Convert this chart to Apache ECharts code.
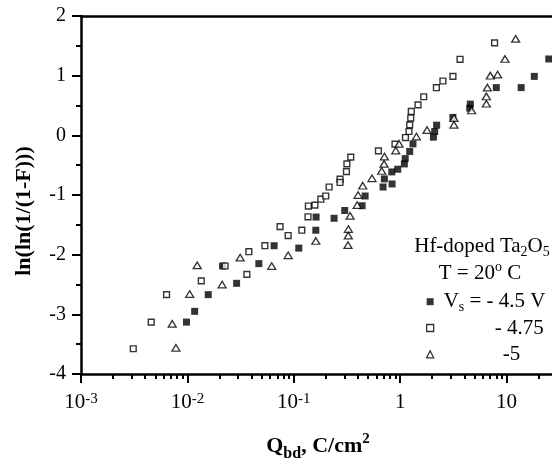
<!DOCTYPE html>
<html>
<head>
<meta charset="utf-8">
<script src="https://cdn.jsdelivr.net/npm/echarts@6/dist/echarts.min.js"></script>
<style>
  html, body { margin: 0; padding: 0; background: #fff; }
  #chart { width: 552px; height: 463px; }
</style>
</head>
<body>
<div id="chart"></div>
<script>
// Weibull plot of charge-to-breakdown (Qbd) for Hf-doped Ta2O5 at three stress voltages.

const FONT = "'Liberation Serif', 'Times New Roman', serif";

// Axis ranges
const qMin = 0.001;
const qMax = 26.7;
const yMin = -4;
const yMax = 2;

// Decades labelled on the Qbd axis and the minor tick multipliers within each decade
const decadeExponents = [-3, -2, -1, 0, 1];
const minorMultipliers = [2, 3, 4, 5, 6, 7, 8, 9];

// Legend names
const seriesNames = ['Vs = -4.5 V', 'Vs = -4.75 V', 'Vs = -5 V'];

// [Qbd (C/cm2), ln(ln(1/(1-F)))]
const pointsVs45 = [
  [0.0098, -3.13], [0.0117, -2.95], [0.0157, -2.67], [0.0214, -2.19], [0.029, -2.48],
  [0.0469, -2.15], [0.0653, -1.85], [0.1114, -1.89], [0.161, -1.59], [0.162, -1.37],
  [0.239, -1.39], [0.301, -1.26], [0.4385, -1.18], [0.468, -1.017], [0.69, -0.866],
  [0.838, -0.815], [0.71, -0.73], [0.834, -0.613], [0.948, -0.568], [1.094, -0.479],
  [1.114, -0.39], [1.228, -0.27], [1.318, -0.143], [2.05, -0.03], [2.11, 0.064],
  [2.2, 0.17], [3.13, 0.3], [4.5, 0.455], [4.56, 0.524], [8.0, 0.8],
  [13.7, 0.8], [18.2, 0.988], [24.9, 1.28]
];

const pointsVs475 = [
  [0.0031, -3.577], [0.00457, -3.13], [0.00637, -2.67], [0.0135, -2.44], [0.0226, -2.19],
  [0.0362, -2.33], [0.0378, -1.95], [0.0535, -1.85], [0.0743, -1.53], [0.0885, -1.68],
  [0.1189, -1.59], [0.136, -1.365], [0.137, -1.185], [0.158, -1.17], [0.1795, -1.07],
  [0.1995, -1.017], [0.2148, -0.866], [0.272, -0.735], [0.272, -0.79], [0.3126, -0.608],
  [0.3155, -0.479], [0.343, -0.366], [0.624, -0.26], [0.893, -0.148], [1.12, -0.037],
  [1.21, 0.064], [1.228, 0.176], [1.256, 0.29], [1.27, 0.4], [1.47, 0.51],
  [1.663, 0.647], [2.188, 0.798], [2.52, 0.911], [3.13, 0.988], [3.65, 1.274],
  [7.71, 1.55]
];

const pointsVs5 = [
  [0.0078, -3.56], [0.0072, -3.16], [0.0105, -2.66], [0.0212, -2.5], [0.01236, -2.18],
  [0.0313, -2.05], [0.062, -2.19], [0.0885, -2.01], [0.161, -1.77], [0.338, -1.35],
  [0.326, -1.57], [0.325, -1.68], [0.323, -1.84], [0.394, -1.168], [0.402, -1.0],
  [0.4446, -0.844], [0.543, -0.72], [0.67, -0.597], [0.705, -0.479], [0.71, -0.356],
  [0.908, -0.255], [0.975, -0.143], [1.419, -0.02], [1.786, 0.087], [3.2, 0.29],
  [3.2, 0.176], [4.69, 0.417], [6.45, 0.53], [6.45, 0.652], [6.59, 0.8],
  [7.03, 1.0], [8.23, 1.017], [9.66, 1.28], [12.16, 1.617]
];

// Tick positions for the decade/minor tick axes (these axes run in log10 units,
// sharing the pixel extent of the logarithmic data axis)
const logMin = Math.log10(qMin);
const logMax = Math.log10(qMax);
const minorLogs = [];
decadeExponents.forEach(function (e) {
  minorMultipliers.forEach(function (m) {
    const v = m * Math.pow(10, e);
    if (v <= qMax) minorLogs.push(Math.log10(v));
  });
});

function decadeLabel(e) {
  if (e === 0) return '{b|1}';
  if (e === 1) return '{b|10}';
  return '{b|10}{s|' + e + '}';
}

const legendText = {};
legendText[seriesNames[0]] = '{p1|V}{sub|s}{m| = - 4.5 V}';
legendText[seriesNames[1]] = '{p2|- 4.75}';
legendText[seriesNames[2]] = '{p3|-5}';

const chart = echarts.init(document.getElementById('chart'), null, { renderer: 'canvas' });

const axisBlack = { color: '#000', width: 2.5 };

chart.setOption({
  animation: false,
  backgroundColor: '#fff',
  grid: { left: 81, right: 0, top: 16, bottom: 89, containLabel: false },
  xAxis: [
    {
      type: 'log', logBase: 10, min: qMin, max: qMax, show: false
    },
    {
      type: 'value', min: logMin, max: logMax, position: 'bottom',
      splitLine: { show: false },
      axisLine: { show: true, onZero: false, lineStyle: axisBlack },
      axisTick: { show: true, inside: false, length: 9, customValues: decadeExponents,
                  lineStyle: { color: '#000', width: 2 } },
      axisLabel: {
        show: true, customValues: decadeExponents, margin: 18,
        formatter: decadeLabel, color: '#000', fontFamily: FONT, fontSize: 21,
        rich: {
          b: { fontFamily: FONT, fontSize: 21, lineHeight: 21, color: '#000' },
          s: { fontFamily: FONT, fontSize: 15, lineHeight: 15, verticalAlign: 'top', color: '#000' }
        }
      }
    },
    {
      type: 'value', min: logMin, max: logMax, position: 'bottom',
      splitLine: { show: false },
      axisLine: { show: false, onZero: false },
      axisTick: { show: true, inside: false, length: 5, customValues: minorLogs,
                  lineStyle: { color: '#000', width: 2 } },
      axisLabel: { show: false }
    },
    {
      type: 'value', min: logMin, max: logMax, position: 'top',
      splitLine: { show: false },
      axisLine: { show: true, onZero: false, lineStyle: axisBlack },
      axisTick: { show: false },
      axisLabel: { show: false }
    }
  ],
  yAxis: {
    type: 'value', min: yMin, max: yMax, interval: 1,
    splitLine: { show: false },
    axisLine: { show: true, onZero: false, lineStyle: axisBlack },
    axisTick: { show: true, inside: false, length: 9, lineStyle: { color: '#000', width: 2 } },
    minorTick: { show: true, splitNumber: 2, length: 5, lineStyle: { color: '#000', width: 2 } },
    axisLabel: { margin: 15, color: '#000', fontFamily: FONT, fontSize: 20 }
  },
  legend: {
    orient: 'vertical', left: 426, top: 288.7, padding: 0,
    itemWidth: 7, itemHeight: 7, itemGap: 0.3, selectedMode: false,
    itemStyle: { borderWidth: 1.3 },
    data: seriesNames,
    formatter: function (name) { return legendText[name]; },
    textStyle: {
      color: '#000', fontFamily: FONT, fontSize: 21, lineHeight: 26,
      rich: {
        p1: { fontFamily: FONT, fontSize: 21, lineHeight: 26, padding: [0, 0, 0, 5], color: '#000' },
        m: { fontFamily: FONT, fontSize: 21, lineHeight: 26, color: '#000' },
        sub: { fontFamily: FONT, fontSize: 14, lineHeight: 8, verticalAlign: 'bottom', color: '#000' },
        p2: { fontFamily: FONT, fontSize: 21, lineHeight: 26, padding: [0, 0, 0, 56], color: '#000' },
        p3: { fontFamily: FONT, fontSize: 21, lineHeight: 26, padding: [0, 0, 0, 64], color: '#000' }
      }
    }
  },
  series: [
    {
      type: 'scatter', name: seriesNames[0], data: pointsVs45,
      xAxisIndex: 0, yAxisIndex: 0,
      symbol: 'rect', symbolSize: 7,
      itemStyle: { color: '#000' },
      emphasis: { disabled: true }
    },
    {
      type: 'scatter', name: seriesNames[1], data: pointsVs475,
      xAxisIndex: 0, yAxisIndex: 0,
      symbol: 'rect', symbolSize: 5.8,
      itemStyle: { color: '#fff', borderColor: '#000', borderWidth: 1.4 },
      emphasis: { disabled: true }
    },
    {
      type: 'scatter', name: seriesNames[2], data: pointsVs5,
      xAxisIndex: 0, yAxisIndex: 0,
      symbol: 'triangle', symbolSize: [8, 6.6],
      itemStyle: { color: '#fff', borderColor: '#000', borderWidth: 1.3 },
      emphasis: { disabled: true }
    }
  ],
  graphic: [
    {
      type: 'text', x: 24, y: 211, rotation: Math.PI / 2,
      style: {
        text: 'ln(ln(1/(1-F)))', fontFamily: FONT, fontSize: 22, fontWeight: 'bold',
        fill: '#000', align: 'center', verticalAlign: 'middle'
      }
    },
    {
      type: 'text', x: 318, y: 446.6,
      style: {
        text: '{m|Q}{sub|bd}{m|, C/cm}{sup|2}', fill: '#000', align: 'center', verticalAlign: 'middle',
        rich: {
          m: { fontFamily: FONT, fontSize: 22, fontWeight: 'bold', lineHeight: 30, fill: '#000' },
          sub: { fontFamily: FONT, fontSize: 16, fontWeight: 'bold', lineHeight: 20, verticalAlign: 'bottom', fill: '#000' },
          sup: { fontFamily: FONT, fontSize: 15, fontWeight: 'bold', lineHeight: 12.6, verticalAlign: 'top', fill: '#000' }
        }
      }
    },
    {
      type: 'text', x: 482, y: 246,
      style: {
        text: '{m|Hf-doped Ta}{sub|2}{m|O}{sub|5}', fill: '#000', align: 'center', verticalAlign: 'middle',
        rich: {
          m: { fontFamily: FONT, fontSize: 21, lineHeight: 26, fill: '#000' },
          sub: { fontFamily: FONT, fontSize: 14, lineHeight: 14, verticalAlign: 'bottom', fill: '#000' }
        }
      }
    },
    {
      type: 'text', x: 480, y: 273,
      style: {
        text: '{m|T = 20}{sup|o}{m| C}', fill: '#000', align: 'center', verticalAlign: 'middle',
        rich: {
          m: { fontFamily: FONT, fontSize: 21, lineHeight: 26, fill: '#000' },
          sup: { fontFamily: FONT, fontSize: 14, lineHeight: 19, verticalAlign: 'top', fill: '#000' }
        }
      }
    }
  ]
});
</script>
</body>
</html>
